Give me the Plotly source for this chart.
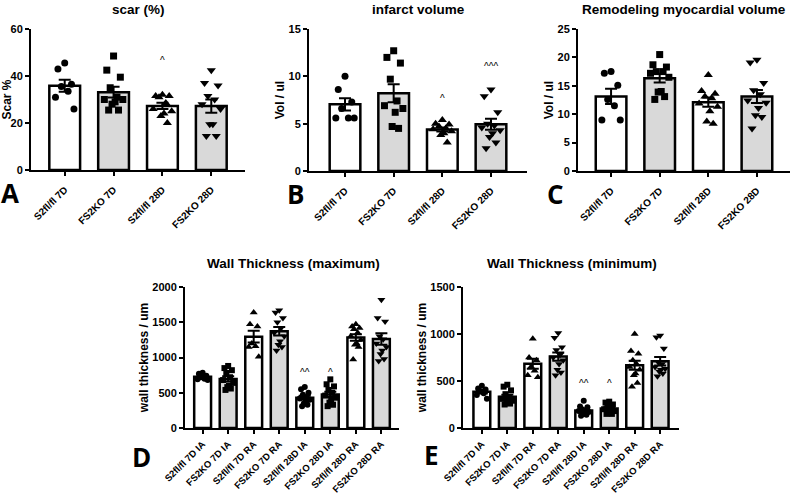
import numpy as np
import plotly.graph_objects as go

# group labels
groups_top = ["S2fl/fl 7D", "FS2KO 7D", "S2fl/fl 28D", "FS2KO 28D"]
groups_wall = ["S2fl/fl 7D IA", "FS2KO 7D IA", "S2fl/fl 7D RA", "FS2KO 7D RA",
               "S2fl/fl 28D IA", "FS2KO 28D IA", "S2fl/fl 28D RA", "FS2KO 28D RA"]

# individual animals per group
scar = [
    [45.5, 43, 36.5, 35.5, 33.5, 31, 26],
    [48.5, 42.5, 39.5, 35, 31, 30, 30, 29, 28, 25.5, 25.5],
    [32, 31.5, 31.5, 31, 28.5, 26, 25, 24, 23, 20],
    [42.5, 37, 36, 31.5, 30, 28, 26, 19.5, 19.5, 14.5, 14.5],
]
infarct = [
    [10, 8.6, 7.3, 6.6, 5.6, 5.6, 5.6],
    [12.7, 12, 11.4, 9.7, 7.4, 6.9, 6.6, 6.2, 4.7, 4.5],
    [5.4, 5.0, 4.9, 4.7, 4.5, 4.4, 4.2, 4.0, 3.8, 3.0],
    [8.6, 7.9, 6.2, 5.0, 4.8, 4.6, 4.3, 4.0, 3.6, 3.0, 2.4],
]
remodel = [
    [17.5, 17.2, 15.1, 12.6, 11.5, 9.0, 9.0],
    [20.5, 18.7, 18.3, 17.5, 17.5, 17.2, 16.5, 14, 13.9, 13.1, 12.6],
    [16.9, 14.1, 13.6, 13.1, 12.8, 11.9, 11.3, 10.5, 8.7, 8.3],
    [19.6, 19.1, 15.5, 14.2, 13.5, 12.4, 12.0, 11.1, 9.8, 9.5, 7.5],
]
wall_max = [
    [785, 770, 740, 720, 700, 690, 680],
    [880, 850, 820, 780, 720, 680, 640, 600, 580, 560, 540],
    [1640, 1470, 1440, 1200, 1160, 1150, 1010],
    [1670, 1640, 1560, 1500, 1420, 1350, 1300, 1230, 1180, 1150, 1100],
    [580, 550, 500, 470, 440, 420, 400, 380, 350, 330, 310],
    [690, 620, 590, 540, 500, 460, 430, 400, 360, 330, 310],
    [1470, 1440, 1420, 1400, 1350, 1300, 1250, 1200, 1180, 1150, 970],
    [1820, 1560, 1510, 1300, 1260, 1200, 1150, 1100, 1050, 980, 950],
]
wall_min = [
    [450, 420, 410, 390, 370, 350, 310],
    [460, 440, 400, 360, 330, 310, 290, 280, 270, 260, 250],
    [950, 750, 720, 650, 610, 560, 540],
    [1010, 960, 860, 830, 780, 750, 720, 680, 620, 590, 560],
    [290, 230, 220, 200, 190, 180, 170, 160, 150, 140, 130],
    [280, 270, 250, 240, 220, 200, 180, 170, 160, 150, 150],
    [1000, 820, 790, 720, 680, 650, 620, 580, 560, 480, 440],
    [985, 965, 845, 700, 680, 650, 630, 620, 600, 580, 550],
]

# significance marks: (group index, label, y value)
sig_scar = [(2, "^", 46.5)]
sig_infarct = [(2, "^", 7.7), (3, "^^^", 11.0)]
sig_max = [(4, "^^", 790), (5, "^", 790)]
sig_min = [(4, "^^", 470), (5, "^", 470)]

W, H = 792, 496
FONT = "Liberation Sans"
symbols = ["circle", "square", "triangle-up", "triangle-down"]
fills = ["white", "#d9d9d9"]
jitter = [0.0, -0.22, 0.22, -0.11, 0.11, -0.3, 0.3, 0.05, -0.05, 0.16, -0.16]


def px(x):
    return x / W


def py(y):
    return 1 - y / H


fig = go.Figure()
annotations = []

panels = [
    dict(data=scar, labels=groups_top, ymax=60, dtick=20, ytitle="Scar %", title="scar (%)",
         xd=(31, 245), yd=(29, 170), pad=0.69, bw=0.63, ms=7, xfs=10, lso=4, letter="A",
         lpos=(10, 193), tpos=(138, 9), tanchor="center", sig=sig_scar),
    dict(data=infarct, labels=groups_top, ymax=15, dtick=5, ytitle="Vol / ul", title="infarct volume",
         xd=(309, 527), yd=(29, 171), pad=0.74, bw=0.63, ms=7, xfs=10, lso=4, letter="B",
         lpos=(295, 194), tpos=(418, 9), tanchor="center", sig=sig_infarct),
    dict(data=remodel, labels=groups_top, ymax=25, dtick=5, ytitle="Vol / ul",
         title="Remodeling myocardial volume",
         xd=(578, 790), yd=(29, 171), pad=0.68, bw=0.63, ms=7, xfs=10, lso=4, letter="C",
         lpos=(555, 194), tpos=(788, 9), tanchor="right", sig=[]),
    dict(data=wall_max, labels=groups_wall, ymax=2000, dtick=500, ytitle="wall thickness / um",
         title="Wall Thickness (maximum)",
         xd=(185, 399), yd=(287, 428), pad=0.69, bw=0.66, ms=6, xfs=9.5, lso=1, letter="D",
         lpos=(141, 457), tpos=(293, 263), tanchor="center", sig=sig_max),
    dict(data=wall_min, labels=groups_wall, ymax=1500, dtick=500, ytitle="wall thickness / um",
         title="Wall Thickness (minimum)",
         xd=(463, 679), yd=(287, 428), pad=0.74, bw=0.66, ms=6, xfs=9.5, lso=1, letter="E",
         lpos=(431, 455), tpos=(572, 263), tanchor="center", sig=sig_min),
]

layout_axes = {}
for k, p in enumerate(panels):
    xa = "x" if k == 0 else f"x{k + 1}"
    ya = "y" if k == 0 else f"y{k + 1}"
    n = len(p["data"])
    xs = list(range(n))
    means = [np.mean(v) for v in p["data"]]
    sems = [np.std(v, ddof=1) / np.sqrt(len(v)) for v in p["data"]]

    fig.add_trace(go.Bar(
        x=xs, y=means, width=p["bw"], xaxis=xa, yaxis=ya,
        marker=dict(color=[fills[i % 2] for i in xs], line=dict(color="black", width=2.5)),
        error_y=dict(type="data", array=sems, color="black", thickness=2, width=6),
        showlegend=False, hoverinfo="skip",
    ))
    for i, vals in enumerate(p["data"]):
        off = [jitter[j % len(jitter)] * p["bw"] for j in range(len(vals))]
        fig.add_trace(go.Scatter(
            x=[i + o for o in off], y=vals, mode="markers", xaxis=xa, yaxis=ya,
            marker=dict(symbol=symbols[i % 4], color="black",
                        size=p["ms"] + (1 if "triangle" in symbols[i % 4] else 0)),
            showlegend=False,
        ))

    key = "xaxis" if k == 0 else f"xaxis{k + 1}"
    ykey = "yaxis" if k == 0 else f"yaxis{k + 1}"
    layout_axes[key] = dict(
        domain=[px(p["xd"][0]), px(p["xd"][1])], anchor=ya,
        range=[-p["pad"], n - 1 + p["pad"]],
        tickmode="array", tickvals=xs, ticktext=p["labels"], tickangle=-45,
        ticks="outside", ticklen=4, tickwidth=2, tickcolor="black", ticklabelstandoff=p["lso"],
        showline=True, linecolor="black", linewidth=2, showgrid=False, zeroline=False,
        tickfont=dict(family=FONT, size=p["xfs"], color="black", weight="bold"),
        automargin=False, fixedrange=True,
    )
    layout_axes[ykey] = dict(
        domain=[py(p["yd"][1]), py(p["yd"][0])], anchor=xa,
        range=[0, p["ymax"]], dtick=p["dtick"], tick0=0,
        ticks="outside", ticklen=4, tickwidth=2, tickcolor="black",
        showline=True, linecolor="black", linewidth=2, showgrid=False, zeroline=False,
        tickfont=dict(family=FONT, size=11, color="black", weight="bold"),
        title=dict(text=p["ytitle"], standoff=1,
                   font=dict(family=FONT, size=12, color="black", weight="bold")),
        automargin=False, fixedrange=True,
    )

    annotations.append(dict(
        text=p["title"], x=px(p["tpos"][0]), y=py(p["tpos"][1]), xref="paper", yref="paper",
        showarrow=False, xanchor=p["tanchor"], yanchor="middle",
        font=dict(family=FONT, size=13.5, color="black", weight="bold"),
    ))
    annotations.append(dict(
        text=p["letter"], x=px(p["lpos"][0]), y=py(p["lpos"][1]), xref="paper", yref="paper",
        showarrow=False, xanchor="center", yanchor="middle",
        font=dict(family="Open Sans", size=26, color="black", weight="bold"),
    ))
    for gi, lab, yv in p["sig"]:
        annotations.append(dict(
            text=lab, x=gi, y=yv, xref=xa, yref=ya, showarrow=False,
            xanchor="center", yanchor="middle",
            font=dict(family=FONT, size=10, color="black"),
        ))

fig.update_layout(
    width=W, height=H,
    margin=dict(l=0, r=0, t=0, b=0),
    plot_bgcolor="white", paper_bgcolor="white",
    annotations=annotations,
    **layout_axes,
)

# drop the browser's default 8px body margin so the figure fills the window exactly
fig.write_html("out.html", config={"displayModeBar": False},
               post_script="document.body.style.margin='0';")
